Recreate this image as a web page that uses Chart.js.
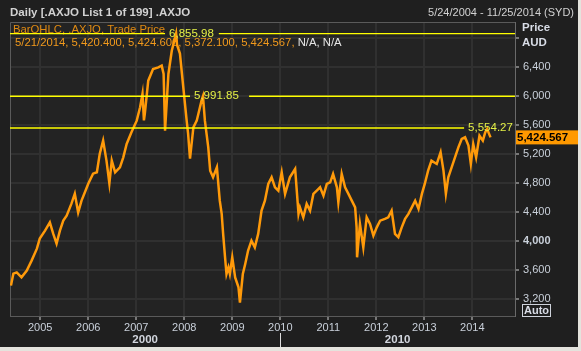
<!DOCTYPE html>
<html>
<head>
<meta charset="utf-8">
<script src="https://cdn.jsdelivr.net/npm/chart.js@4.4.0/dist/chart.umd.min.js"></script>
<style>
html, body { margin: 0; padding: 0; background: #e4e3dd; }
#wrap { position: relative; width: 578px; height: 347px; background: #1f1f1f; }
</style>
</head>
<body>
<div id="wrap"><canvas id="chart" width="578" height="347"></canvas></div>
<script>
//Datos (año decimal, cierre)
const years = [
    2004.39, 2004.44, 2004.51, 2004.61, 2004.72, 2004.82, 2004.93, 2004.99,
    2005.10, 2005.20, 2005.27, 2005.34, 2005.41, 2005.48, 2005.55, 2005.65, 2005.72, 2005.79, 2005.86, 2005.93,
    2006.00, 2006.10, 2006.18, 2006.24, 2006.31, 2006.38, 2006.44, 2006.49, 2006.56, 2006.66, 2006.73, 2006.80, 2006.90,
    2007.01, 2007.08, 2007.13, 2007.16, 2007.18, 2007.25, 2007.35, 2007.46, 2007.53, 2007.57, 2007.60, 2007.67, 2007.74, 2007.83, 2007.85, 2007.91, 2007.98,
    2008.05, 2008.08, 2008.12, 2008.19, 2008.26, 2008.36, 2008.39, 2008.43, 2008.50, 2008.54, 2008.60, 2008.68, 2008.74, 2008.78, 2008.81, 2008.85, 2008.88, 2008.92, 2008.95,
    2009.00, 2009.06, 2009.13, 2009.16, 2009.22, 2009.27, 2009.33, 2009.40, 2009.47, 2009.54, 2009.61, 2009.68, 2009.75, 2009.82, 2009.89, 2009.96,
    2010.03, 2010.10, 2010.20, 2010.31, 2010.38, 2010.41, 2010.48, 2010.55, 2010.62, 2010.69, 2010.76, 2010.83, 2010.90, 2010.97,
    2011.04, 2011.10, 2011.18, 2011.21, 2011.28, 2011.35, 2011.42, 2011.49, 2011.56, 2011.59, 2011.60, 2011.66, 2011.73, 2011.80, 2011.87, 2011.94,
    2012.01, 2012.08, 2012.18, 2012.25, 2012.32, 2012.39, 2012.46, 2012.53, 2012.60, 2012.67, 2012.74, 2012.81, 2012.88, 2012.95,
    2013.01, 2013.08, 2013.15, 2013.26, 2013.34, 2013.40, 2013.45, 2013.50, 2013.57, 2013.64, 2013.71, 2013.78, 2013.85, 2013.92, 2013.97,
    2014.02, 2014.08, 2014.15, 2014.22, 2014.27, 2014.31, 2014.38
];
const closes = [
    3380, 3545, 3563, 3494, 3587, 3725, 3890, 4028,
    4139, 4253, 4097, 3960, 4139, 4276, 4345, 4510, 4648, 4390, 4552, 4667,
    4786, 4924, 4943, 5200, 5380, 5104, 4790, 5104, 4943, 5012, 5150, 5334, 5494,
    5655, 5839, 6024, 5660, 5760, 6207, 6368, 6390, 6414, 6300, 5517, 6299, 6620, 6856, 6700, 6580, 6115,
    5655, 5475, 5131, 5563, 5655, 5931, 5992, 5655, 5287, 4966, 4874, 5012, 4552, 4369, 4093, 3770, 3540, 3632, 3540,
    3770, 3494, 3356, 3145, 3540, 3679, 3863, 4000, 3908, 4093, 4414, 4552, 4782, 4874, 4736, 4690,
    4943, 4645, 4874, 4989, 4369, 4460, 4322, 4507, 4414, 4645, 4690, 4736, 4621, 4782,
    4805, 4920, 4736, 4530, 4920, 4736, 4645, 4552, 4460, 4184, 3770, 4231, 3908, 4322, 4231, 4069,
    4184, 4276, 4300, 4322, 4414, 4093, 4047, 4184, 4300, 4369, 4460, 4552, 4438, 4645,
    4782, 4966, 5104, 5058, 5219, 4966, 4645, 4874, 5012, 5150, 5287, 5403, 5426, 5311, 5058,
    5334, 5150, 5448, 5380, 5494, 5540, 5425
];

//Ejes
const xTicks = [2005, 2006, 2007, 2008, 2009, 2010, 2011, 2012, 2013, 2014];
const yTicks = [3200, 3600, 4000, 4400, 4800, 5200, 5600, 6000, 6400, 6800];
const decades = ["2000", "2010"];
const decadeStart = [2004.37, 2010];

//Líneas de referencia
const refLevels = [6855.98, 5991.85, 5554.27];
const refGapStart = [2007.60, 2008.12, 2013.83];
const refGapEnd = [2008.72, 2009.35, 2014.89];
const lastPrice = 5424.567;

const X_MIN = 2004.37;
const X_MAX = 2014.89;
const Y_MIN = 2961;
const Y_MAX = 7016;

const FONT = "'Liberation Sans', Arial, sans-serif";

function fmt(v, dec) {
    return v.toLocaleString("en-US", { minimumFractionDigits: dec, maximumFractionDigits: dec });
}

//Línea horizontal con hueco para la etiqueta
function refData(i) {
    const pts = [{ x: X_MIN, y: refLevels[i] }, { x: refGapStart[i], y: refLevels[i] }, { x: refGapStart[i] + 0.01, y: null }];
    if (refGapEnd[i] < X_MAX) {
        pts.push({ x: refGapEnd[i], y: refLevels[i] }, { x: X_MAX, y: refLevels[i] });
    }
    return pts;
}

const datasets = refLevels.map((v, i) => ({
    data: refData(i),
    borderColor: "#ffff00",
    borderWidth: 1.3,
    pointRadius: 0,
    spanGaps: false
}));

datasets.push({
    data: years.map((t, i) => ({ x: t, y: closes[i] })),
    borderColor: "#ff9a0a",
    borderWidth: 2.5,
    borderJoinStyle: "miter",
    pointRadius: 0,
    tension: 0
});

const decor = {
    id: "decor",
    beforeDraw(chart) {
        const { ctx, chartArea: a } = chart;
        ctx.save();
        ctx.fillStyle = "#232323";
        ctx.fillRect(a.left, a.top, a.right - a.left, a.bottom - a.top);
        ctx.restore();
    },
    beforeDatasetsDraw(chart) {
        const { ctx, chartArea: a } = chart;
        ctx.save();
        //Marco superior e izquierdo
        ctx.strokeStyle = "#5a5a5a";
        ctx.lineWidth = 1;
        ctx.beginPath();
        ctx.moveTo(a.left + 0.5, a.bottom);
        ctx.lineTo(a.left + 0.5, a.top + 0.5);
        ctx.lineTo(a.right, a.top + 0.5);
        ctx.stroke();

        //Leyenda
        ctx.font = "11.3px " + FONT;
        ctx.textBaseline = "alphabetic";
        ctx.fillStyle = "#e08a12";
        ctx.fillText("BarOHLC, .AXJO, Trade Price", 13, 33);
        const part = "5/21/2014, 5,420.400, 5,424.600, 5,372.100, 5,424.567, ";
        ctx.fillStyle = "#f29a1c";
        ctx.fillText(part, 15, 46);
        ctx.fillStyle = "#e6e6e6";
        ctx.fillText("N/A, N/A", 15 + ctx.measureText(part).width, 46);
        ctx.restore();
    },
    afterDatasetsDraw(chart) {
        const { ctx, scales } = chart;
        ctx.save();
        ctx.font = "11.5px " + FONT;
        ctx.fillStyle = "#e4f046";
        ctx.textBaseline = "middle";
        refLevels.forEach((v, i) => {
            const x = scales.x.getPixelForValue(refGapStart[i]) + 4;
            const y = scales.y.getPixelForValue(v);
            ctx.fillText(fmt(v, 2), x, y);
        });
        ctx.restore();
    },
    afterDraw(chart) {
        const { ctx, chartArea: a, scales } = chart;
        ctx.save();

        //Título y rango
        ctx.font = "bold 11.5px " + FONT;
        ctx.fillStyle = "#d2d2d2";
        ctx.textBaseline = "alphabetic";
        ctx.fillText("Daily [.AXJO List 1 of 199] .AXJO", 10, 16);
        ctx.font = "11px " + FONT;
        ctx.textAlign = "right";
        ctx.fillText("5/24/2004 - 11/25/2014 (SYD)", 574, 16);

        //Unidades
        ctx.textAlign = "left";
        ctx.font = "bold 11.5px " + FONT;
        ctx.fillStyle = "#d8dce6";
        ctx.fillText("Price", 522, 31);
        ctx.fillText("AUD", 522, 46);

        //Último precio
        const yp = scales.y.getPixelForValue(lastPrice);
        ctx.fillStyle = "#ff9900";
        ctx.fillRect(a.right + 1, yp - 7, 62, 14);
        ctx.fillStyle = "#000";
        ctx.textBaseline = "middle";
        ctx.fillText(fmt(lastPrice, 3), a.right + 2, yp + 0.5);

        //Botón Auto
        ctx.strokeStyle = "#cfd3dc";
        ctx.strokeRect(522.5, 304.5, 28, 12);
        ctx.fillStyle = "#d8dce6";
        ctx.font = "bold 11px " + FONT;
        ctx.fillText("Auto", 524, 311);

        //Décadas
        const sep = scales.x.getPixelForValue(decadeStart[1]);
        ctx.strokeStyle = "#dddddd";
        ctx.beginPath();
        ctx.moveTo(Math.round(sep) + 0.5, 333);
        ctx.lineTo(Math.round(sep) + 0.5, 347);
        ctx.stroke();
        ctx.textAlign = "center";
        ctx.font = "bold 11.5px " + FONT;
        ctx.fillStyle = "#d2d6de";
        const c0 = (a.left + sep) / 2;
        const c1 = (sep + a.right) / 2;
        ctx.fillText(decades[0], c0, 340);
        ctx.fillText(decades[1], c1, 340);
        ctx.restore();
    }
};

new Chart(document.getElementById("chart"), {
    type: "line",
    data: { datasets: datasets },
    options: {
        responsive: false,
        animation: false,
        events: [],
        layout: { padding: { left: 10, top: 22, right: 0, bottom: 0 } },
        plugins: { legend: { display: false }, tooltip: { enabled: false } },
        scales: {
            x: {
                type: "linear",
                min: X_MIN,
                max: X_MAX,
                afterBuildTicks: axis => { axis.ticks = xTicks.map(v => ({ value: v })); },
                afterFit: axis => { axis.height = 31; },
                grid: { color: "#303030", lineWidth: 2, tickColor: "#d0d0d0", tickWidth: 1, tickLength: 4 },
                border: { display: true, color: "#5a5a5a", width: 1 },
                ticks: {
                    color: "#c9d0da",
                    font: { family: FONT, size: 11 },
                    padding: 1,
                    maxRotation: 0,
                    autoSkip: false,
                    callback: v => String(v)
                }
            },
            y: {
                position: "right",
                min: Y_MIN,
                max: Y_MAX,
                afterBuildTicks: axis => { axis.ticks = yTicks.map(v => ({ value: v })); },
                afterFit: axis => { axis.width = 63; },
                grid: { color: "#303030", lineWidth: 2, tickColor: "#d0d0d0", tickWidth: 1, tickLength: 4 },
                border: { display: true, color: "#6a6a6a", width: 1 },
                ticks: {
                    color: "#c9d0da",
                    font: ctx => ({ family: FONT, size: 11, weight: ctx.tick && ctx.tick.value === 4000 ? "bold" : "normal" }),
                    padding: 4,
                    autoSkip: false,
                    callback: v => (v === 6800 ? "" : fmt(v, 0))
                }
            }
        }
    },
    plugins: [decor]
});
</script>
</body>
</html>
